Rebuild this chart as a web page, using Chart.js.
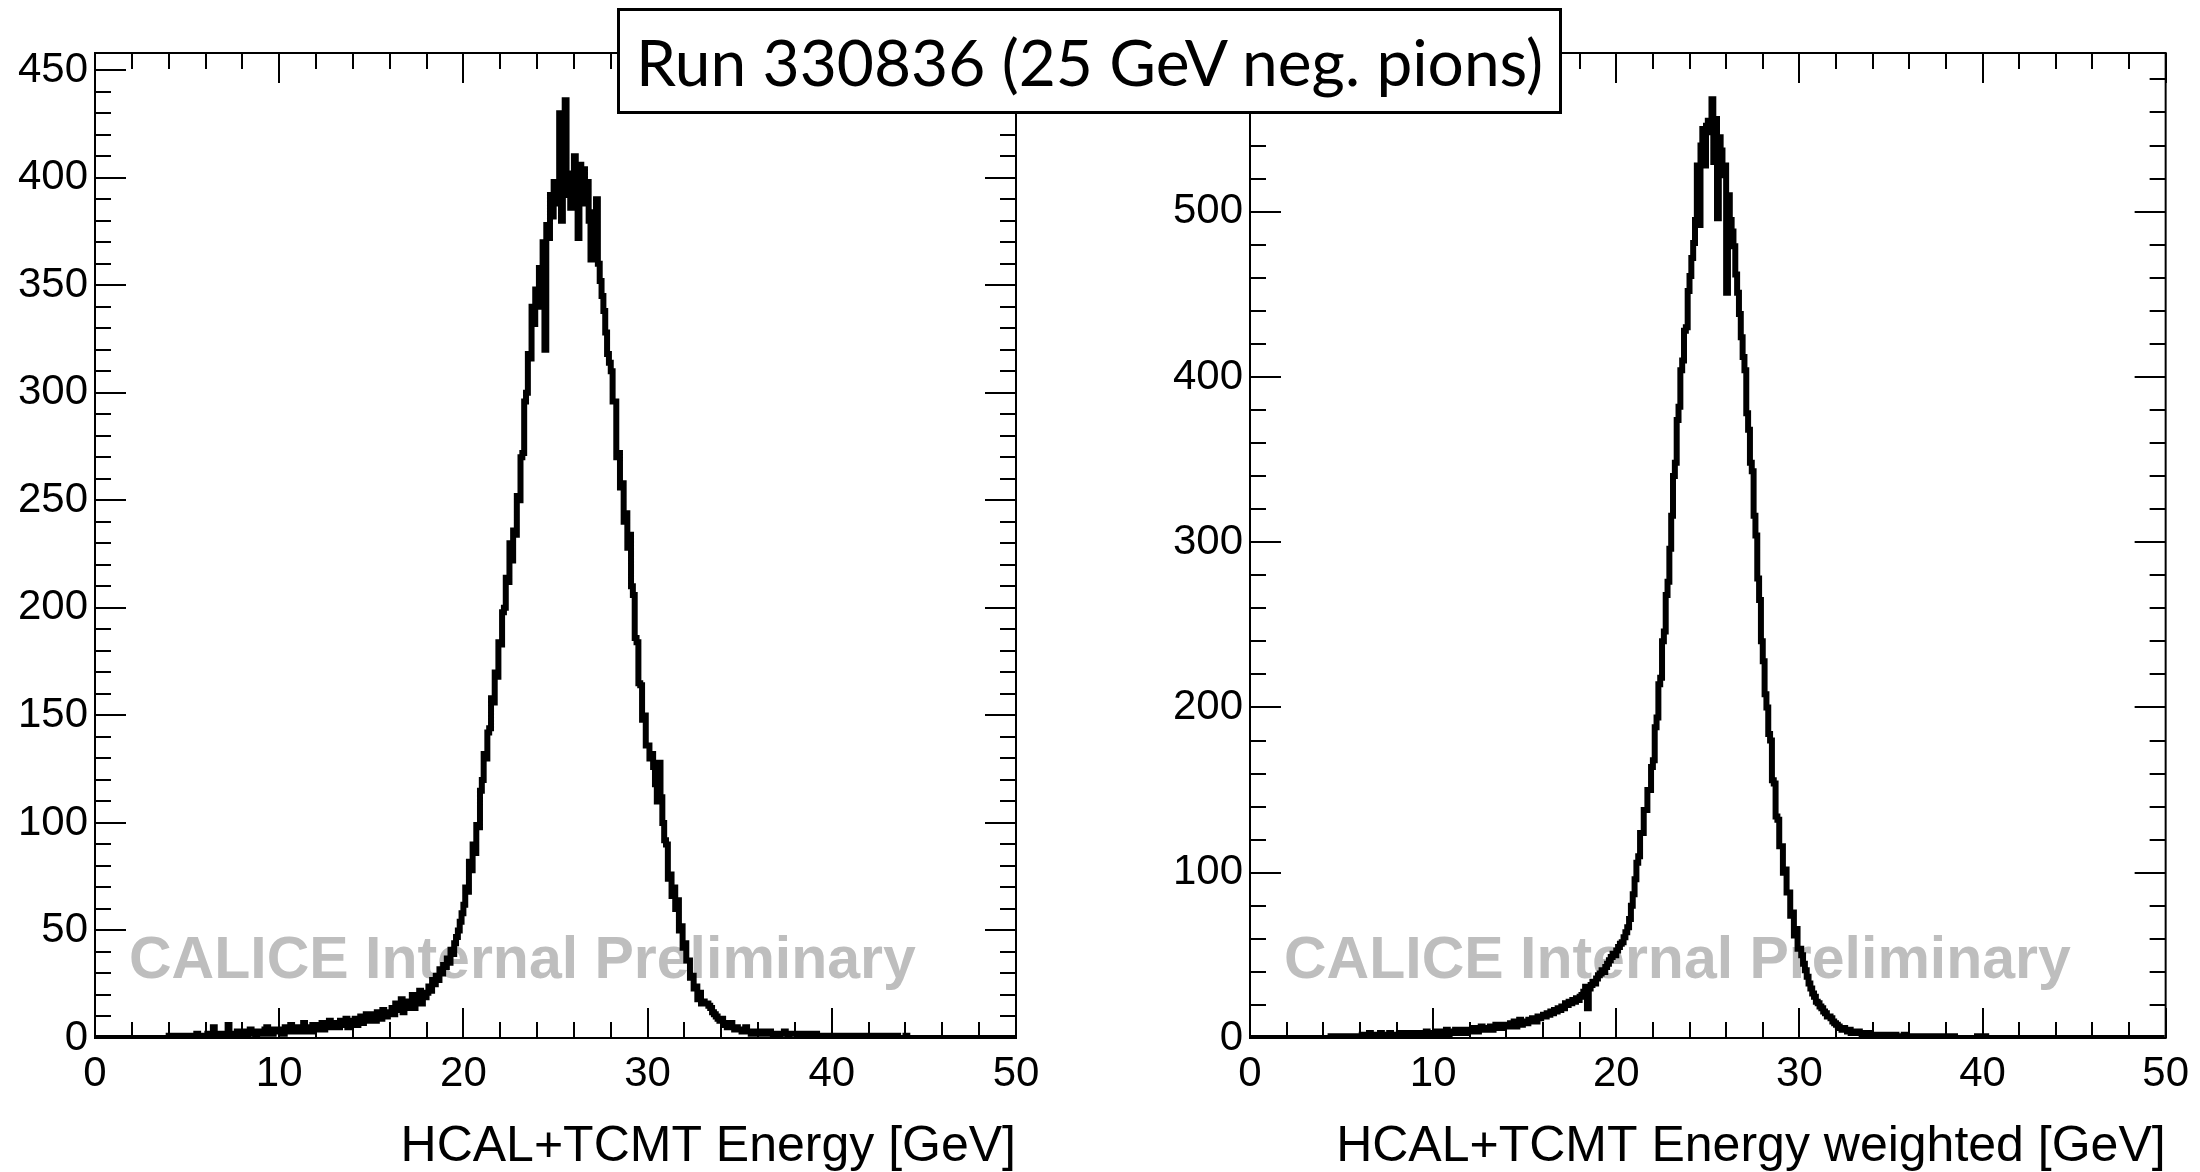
<!DOCTYPE html>
<html>
<head>
<meta charset="utf-8">
<script src="https://cdn.jsdelivr.net/npm/chart.js@4.4.1/dist/chart.umd.min.js"></script>
<style>
  html, body { margin: 0; padding: 0; background: #fff; }
  #wrap { position: relative; width: 2200px; height: 1172px; overflow: hidden; }
  #wrap canvas { position: absolute; top: 0; }
  #left { left: 0; }
  #right { left: 1100px; }
  #runbox {
    position: absolute; left: 617px; top: 8px; width: 945px; height: 106px;
    box-sizing: border-box; border: 3px solid #000; background: #fff;
    font-family: Lato, sans-serif; font-size: 64px; color: #000;
    display: flex; align-items: center; justify-content: center; z-index: 2;
  }
</style>
</head>
<body>
<div id="wrap">
  <canvas id="left" width="1100" height="1172"></canvas>
  <canvas id="right" width="1100" height="1172"></canvas>
  <div id="runbox">Run 330836 (25 GeV neg. pions)</div>
</div>
<script>
// histogram binning: 500 bins of 0.1 GeV between 0 and 50 GeV
const binWidth = 0.1;
const nBins = 500;
const xTicks = [0, 10, 20, 30, 40, 50];
const energyYTicks = [0, 50, 100, 150, 200, 250, 300, 350, 400, 450];
const weightedYTicks = [0, 100, 200, 300, 400, 500];

// HCAL+TCMT energy, bins starting at 4.0 GeV (one row = 1 GeV)
const energyFirstBin = 4.0;
const energyCounts = [
  1, 0, 0, 1, 0, 1, 1, 0, 0, 1,            // 4
  1, 0, 1, 1, 0, 2, 1, 0, 1, 1,            // 5
  1, 2, 0, 1, 5, 1, 1, 2, 0, 2,            // 6
  2, 1, 6, 1, 2, 0, 2, 3, 1, 2,            // 7
  2, 3, 1, 2, 4, 2, 3, 1, 2, 3,            // 8
  3, 2, 4, 5, 2, 3, 2, 4, 3, 4,            // 9
  4, 3, 2, 5, 4, 3, 6, 3, 4, 5,            // 10
  3, 5, 4, 7, 3, 4, 5, 3, 6, 4,            // 11
  5, 4, 6, 7, 4, 5, 6, 8, 5, 6,            // 12
  6, 7, 5, 8, 6, 7, 9, 5, 6, 8,            // 13
  7, 9, 6, 8, 10, 7, 9, 11, 8, 10,         // 14
  9, 11, 8, 12, 10, 9, 13, 11, 10, 12,     // 15
  12, 14, 11, 16, 13, 15, 18, 12, 16, 14,  // 16
  17, 15, 20, 14, 19, 17, 22, 16, 20, 19,  // 17
  21, 24, 22, 27, 25, 29, 27, 32, 30, 34,  // 18
  33, 37, 35, 41, 39, 44, 47, 50, 54, 58,  // 19
  62, 70, 68, 82, 78, 90, 86, 99, 98, 115,          // 20
  120, 132, 130, 142, 144, 158, 156, 170, 168, 184, // 21
  183, 198, 200, 214, 212, 230, 222, 236, 234, 252, // 22
  250, 270, 272, 296, 300, 318, 316, 340, 332, 348, // 23
  340, 358, 352, 370, 320, 378, 372, 392, 382, 398, // 24
  394, 388, 430, 380, 398, 436, 392, 402, 386, 400, // 25
  410, 398, 372, 406, 392, 404, 388, 398, 380, 362, // 26
  384, 378, 390, 360, 352, 345, 338, 328, 318, 314, // 27
  310, 296, 296, 270, 272, 256, 258, 240, 244, 228, // 28
  234, 210, 206, 186, 184, 165, 164, 148, 150, 136, // 29
  136, 130, 132, 126, 118, 110, 128, 112, 100, 92,  // 30
  90, 74, 76, 66, 70, 60, 64, 50, 52, 42,           // 31
  44, 36, 36, 28, 29, 23, 24, 18, 21, 16,           // 32
  17, 16, 16, 15, 14, 12, 11, 10, 9, 8,             // 33
  9, 7, 6, 5, 6, 7, 5, 4, 5, 4,            // 34
  4, 3, 4, 5, 3, 3, 2, 3, 2, 2,            // 35
  3, 2, 2, 3, 2, 2, 3, 2, 1, 2,            // 36
  2, 1, 2, 2, 3, 2, 1, 2, 2, 2,            // 37
  2, 1, 2, 1, 2, 2, 1, 2, 1, 1,            // 38
  1, 2, 1, 1, 0, 1, 0, 1, 1, 0,            // 39
  0, 1, 0, 0, 1, 0, 0, 1, 0, 1,            // 40
  1, 0, 1, 1, 0, 1, 0, 1, 1, 0,            // 41
  1, 0, 0, 1, 0, 1, 0, 0, 1, 0,            // 42
  0, 1, 0, 0, 0, 1, 0, 0, 0, 0,            // 43
  1                                        // 44
];

// HCAL+TCMT energy weighted, bins starting at 4.0 GeV
const weightedFirstBin = 4.0;
const weightedCounts = [
  0, 0, 0, 0, 1, 0, 0, 1, 0, 0,            // 4
  0, 1, 0, 0, 1, 1, 0, 0, 1, 0,            // 5
  1, 2, 0, 1, 1, 3, 1, 0, 2, 1,            // 6
  1, 3, 2, 0, 1, 2, 3, 1, 2, 1,            // 7
  2, 1, 3, 2, 1, 2, 3, 1, 2, 3,            // 8
  2, 3, 1, 2, 3, 2, 4, 2, 3, 2,            // 9
  3, 2, 4, 3, 2, 4, 3, 5, 2, 3,            // 10
  4, 3, 5, 4, 3, 4, 5, 3, 4, 5,            // 11
  5, 4, 6, 5, 4, 6, 7, 5, 6, 5,            // 12
  6, 7, 5, 7, 8, 6, 7, 6, 8, 7,            // 13
  8, 7, 9, 8, 10, 7, 9, 11, 8, 9,          // 14
  10, 9, 11, 10, 12, 11, 10, 13, 12, 13,   // 15
  14, 13, 15, 14, 16, 15, 17, 16, 18, 17,  // 16
  19, 18, 21, 20, 22, 21, 23, 22, 24, 23,  // 17
  25, 26, 28, 31, 18, 30, 32, 34, 33, 36,  // 18
  38, 39, 41, 40, 43, 45, 47, 49, 51, 50,  // 19
  53, 55, 57, 58, 61, 64, 67, 72, 80, 87,           // 20
  96, 106, 110, 124, 124, 138, 138, 150, 150, 164,  // 21
  168, 188, 194, 214, 218, 240, 246, 268, 276, 296, // 22
  316, 340, 348, 374, 382, 404, 410, 428, 430, 452, // 23
  461, 472, 481, 495, 528, 492, 540, 550, 528, 552, // 24
  555, 548, 568, 530, 556, 496, 545, 537, 522, 528, // 25
  451, 510, 495, 488, 479, 462, 451, 438, 424, 412, // 26
  404, 378, 368, 348, 343, 316, 304, 278, 265, 240, // 27
  228, 208, 200, 184, 180, 156, 154, 134, 132, 116, // 28
  116, 100, 102, 88, 88, 74, 76, 62, 66, 54,        // 29
  54, 50, 45, 41, 37, 33, 30, 27, 25, 22,           // 30
  21, 19, 18, 16, 15, 13, 13, 12, 10, 9,   // 31
  8, 7, 6, 5, 6, 5, 4, 5, 3, 4,            // 32
  4, 3, 4, 3, 2, 3, 3, 2, 3, 2,            // 33
  2, 2, 1, 2, 1, 2, 1, 1, 2, 1,            // 34
  1, 1, 2, 1, 1, 0, 1, 2, 1, 0,            // 35
  1, 0, 1, 1, 0, 1, 0, 1, 0, 1,            // 36
  1, 0, 0, 1, 0, 1, 0, 0, 1, 0,            // 37
  1, 0, 0, 0, 1, 0, 0, 0, 0, 0,            // 38
  0, 0, 0, 0, 0, 0, 0, 1, 0, 0,            // 39
  0, 1                                     // 40
];

function toPoints(firstBin, counts) {
  const pts = [];
  for (let i = 0; i < nBins; i++) {
    const lo = i * binWidth;
    const k = Math.round((lo - firstBin) / binWidth);
    const v = (k >= 0 && k < counts.length) ? counts[k] : 0;
    pts.push({ x: lo + binWidth / 2, y: v });
  }
  return pts;
}

// ROOT style frame: inward ticks on all four sides + watermark
const rootFrame = {
  id: "rootFrame",
  beforeDatasetsDraw(chart, args, opts) {
    const { ctx, chartArea } = chart;
    ctx.save();
    ctx.fillStyle = "#bebebe";
    ctx.font = "bold 59px 'Liberation Sans', Arial, sans-serif";
    ctx.textBaseline = "alphabetic";
    ctx.fillText("CALICE Internal Preliminary", chartArea.left + 34, chartArea.bottom - 60);
    ctx.restore();
  },
  afterDatasetsDraw(chart, args, opts) {
    const { ctx, chartArea } = chart;
    const x = chart.scales.x, y = chart.scales.y;
    const { left, right, top, bottom } = chartArea;
    ctx.save();
    ctx.strokeStyle = "#000";
    ctx.lineWidth = 2;
    ctx.beginPath();
    for (let v = x.min; v <= x.max + 1e-9; v += opts.xMinor) {
      const px = Math.round(x.getPixelForValue(v));
      const len = Math.abs(v / opts.xMajor - Math.round(v / opts.xMajor)) < 1e-6 ? 30 : 16;
      ctx.moveTo(px, bottom); ctx.lineTo(px, bottom - len);
      ctx.moveTo(px, top); ctx.lineTo(px, top + len);
    }
    for (let v = 0; v <= y.max + 1e-9; v += opts.yMinor) {
      const py = Math.round(y.getPixelForValue(v));
      const len = Math.abs(v / opts.yMajor - Math.round(v / opts.yMajor)) < 1e-6 ? 31 : 16;
      ctx.moveTo(left, py); ctx.lineTo(left + len, py);
      ctx.moveTo(right, py); ctx.lineTo(right - len, py);
    }
    ctx.stroke();
    ctx.strokeRect(left, top, right - left, bottom - top);
    ctx.restore();
  }
};

const labelFont = { family: "'Liberation Sans', Arial, sans-serif", size: 42 };

function makeChart(id, points, yMax, yTicks, yMinor, title, yAxisWidth, padRight) {
  return new Chart(document.getElementById(id).getContext("2d"), {
    type: "line",
    data: {
      datasets: [{
        data: points,
        borderColor: "#000",
        borderWidth: 6,
        pointRadius: 0,
        stepped: "middle",
        fill: false
      }]
    },
    options: {
      responsive: false,
      animation: false,
      layout: { padding: { top: 53, right: padRight, left: 0, bottom: 0 } },
      scales: {
        x: {
          type: "linear",
          min: 0, max: 50,
          afterFit: s => { s.height = 134; },
          afterBuildTicks: s => { s.ticks = xTicks.map(v => ({ value: v })); },
          grid: { display: false, drawTicks: false },
          border: { display: false },
          ticks: { font: labelFont, color: "#000", padding: 11, maxRotation: 0 },
          title: {
            display: true, text: title, align: "end", color: "#000",
            font: { family: "'Liberation Sans', Arial, sans-serif", size: 50, lineHeight: 1 },
            padding: 0
          }
        },
        y: {
          type: "linear",
          min: 0, max: yMax,
          afterFit: s => { s.width = yAxisWidth; },
          afterBuildTicks: s => { s.ticks = yTicks.map(v => ({ value: v })); },
          grid: { display: false, drawTicks: false },
          border: { display: false },
          ticks: { font: labelFont, color: "#000", padding: 7, autoSkip: false }
        }
      },
      plugins: {
        legend: { display: false },
        tooltip: { enabled: false },
        rootFrame: { xMinor: 2, xMajor: 10, yMinor: yMinor, yMajor: yTicks[1] }
      }
    },
    plugins: [rootFrame]
  });
}

makeChart("left", toPoints(energyFirstBin, energyCounts), 458, energyYTicks, 10,
  "HCAL+TCMT Energy [GeV]", 95, 84);
makeChart("right", toPoints(weightedFirstBin, weightedCounts), 596, weightedYTicks, 20,
  "HCAL+TCMT Energy weighted [GeV]", 150, 29);
</script>
</body>
</html>
